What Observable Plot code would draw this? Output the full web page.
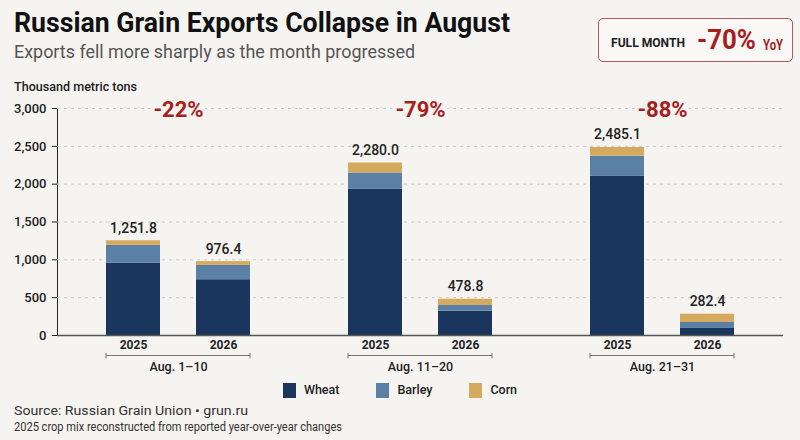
<!DOCTYPE html>
<html>
<head>
<meta charset="utf-8">
<script src="https://cdn.jsdelivr.net/npm/d3@7"></script>
<script src="https://cdn.jsdelivr.net/npm/@observablehq/plot@0.6"></script>
<style>
  html, body { margin: 0; padding: 0; background: #f5f4f1; }
  #root { position: relative; width: 800px; height: 440px; overflow: hidden; background: #f5f4f1;
    font-family: Roboto, "Liberation Sans", sans-serif; color: #222; }
  .abs { position: absolute; white-space: nowrap; line-height: 1; transform-origin: 0 0; }
  #title { left: 14px; top: 9.4px; font-size: 28px; font-weight: 700; color: #111; }
  #subtitle { left: 14px; top: 42px; font-size: 19px; color: #555; }
  #box { left: 598px; top: 18px; width: 193px; height: 42px; border: 1.2px solid #b9565a; border-radius: 5px;
    background: #f9f8f6; }
  #fmLbl { left: 611px; top: 36px; font-size: 13px; font-weight: 700; color: #222; }
  #fm { left: 697px; top: 27.3px; font-size: 27px; font-weight: 700; color: #a51f1f; }
  #yoy { left: 763px; top: 38px; font-size: 14px; font-weight: 700; color: #a51f1f; }
  #unit { left: 14px; top: 80px; font-size: 13px; font-weight: 500; color: #222; }
  #chart { position: absolute; left: 0; top: 92px; }
  #legend { left: 0; top: 383px; width: 800px; display: flex; justify-content: center; gap: 37px; }
  #legend .item { display: flex; align-items: center; font-size: 12.5px; font-weight: 500; color: #222; }
  #legend .sw { width: 13px; height: 15px; margin-right: 8px; }
  #src1 { left: 14px; top: 405px; font-size: 12px; color: #333; }
  #src2 { left: 14px; top: 421px; font-size: 12px; color: #333; }
  #chart g[aria-label="x-axis tick label"] { font-weight: 700; font-size: 12px; }
  #chart g[aria-label="fx-axis tick label"] { font-weight: 500; font-size: 12.5px; }
  #chart g[aria-label="y-axis tick label"] { font-weight: 500; }
</style>
</head>
<body>
<div id="root">
  <div id="title" class="abs">Russian Grain Exports Collapse in August</div>
  <div id="subtitle" class="abs">Exports fell more sharply as the month progressed</div>
  <div id="box" class="abs"></div>
  <div id="fmLbl" class="abs">FULL MONTH</div>
  <div id="fm" class="abs"></div>
  <div id="yoy" class="abs">YoY</div>
  <div id="unit" class="abs">Thousand metric tons</div>
  <div id="chart"></div>
  <div id="legend" class="abs"></div>
  <div id="src1" class="abs">Source: Russian Grain Union • grun.ru</div>
  <div id="src2" class="abs">2025 crop mix reconstructed from reported year-over-year changes</div>
</div>
<script>
// ---- data ----
const groups = ["Aug. 1–10", "Aug. 11–20", "Aug. 21–31"];
const years = ["2025", "2026"];
const crops = ["Wheat", "Barley", "Corn"];
const cropColors = ["#1b365d", "#5b80a6", "#d6aa5e"];
const barGroup = ["Aug. 1–10", "Aug. 1–10", "Aug. 11–20", "Aug. 11–20", "Aug. 21–31", "Aug. 21–31"];
const barYear = ["2025", "2026", "2025", "2026", "2025", "2026"];
const wheat = [957, 737, 1932, 322, 2108, 93];
const barley = [234, 189, 216, 75, 261, 79];
const corn = [60.8, 50.4, 132.0, 81.8, 116.1, 110.4];
const totals = [1251.8, 976.4, 2280.0, 478.8, 2485.1, 282.4];
const changes = ["-22%", "-79%", "-88%"];
const fullMonthChange = "-70%";
const yTicks = [0, 500, 1000, 1500, 2000, 2500, 3000];

// ---- tables ----
const series = [wheat, barley, corn];
const rows = barGroup.flatMap((g, i) => crops.map((c, j) => ({group: g, year: barYear[i], crop: c, value: series[j][i]})));
const totalRows = barGroup.map((g, i) => ({group: g, year: barYear[i], total: totals[i]}));
const groupRows = groups.map((g, i) => ({group: g, change: changes[i]}));
const bg = "#f5f4f1";
const fmt = d3.format(",.1f");

document.getElementById("fm").textContent = fullMonthChange;

const plot = Plot.plot({
  width: 800,
  height: 286,
  marginLeft: 57,
  marginRight: 17,
  marginTop: 16,
  marginBottom: 43,
  style: {background: "transparent", fontFamily: "Roboto, 'Liberation Sans', sans-serif", fontSize: "13px", color: "#222"},
  fx: {domain: groups, padding: 0},
  x: {domain: years, paddingInner: 0.4, paddingOuter: 0.544, tickSize: 0, tickPadding: 5, label: null},
  y: {domain: [0, 3000], ticks: yTicks, tickFormat: d3.format(","), tickSize: 5, tickPadding: 6, line: true, label: null},
  color: {domain: crops, range: cropColors},
  marks: [
    Plot.gridY(yTicks.slice(1), {stroke: "#c8c8c8", strokeOpacity: 1, strokeDasharray: "3,4"}),
    Plot.barY(rows, {fx: "group", x: "year", y: "value", fill: "crop", order: crops}),
    Plot.ruleY([0], {stroke: "#555", strokeWidth: 1.5}),
    Plot.text(totalRows, {fx: "group", x: "year", y: "total", text: d => fmt(d.total), dy: -8, lineAnchor: "bottom", fontSize: 14, fontWeight: 500, fill: "#222"}),
    Plot.text(groupRows, {fx: "group", text: "change", frameAnchor: "top", dy: -7, fontSize: 22, fontWeight: 700, fill: "#a51f1f", stroke: bg, strokeWidth: 8, paintOrder: "stroke"}),
    Plot.ruleY(groupRows, {fx: "group", x1: () => years[0], x2: () => years[1], y: () => 0, dy: 20, stroke: "#777", strokeWidth: 1, markerStart: "tick", markerEnd: "tick"}),
    Plot.axisFx({anchor: "bottom", tickSize: 0, tickPadding: 27, label: null})
  ]
});
document.getElementById("chart").appendChild(plot);

// legend from the same arrays
const legend = d3.select("#legend");
crops.forEach((c, i) => {
  const it = legend.append("div").attr("class", "item");
  it.append("div").attr("class", "sw").style("background", cropColors[i]);
  it.append("span").text(c);
});

// condense the HTML text lines to the reference's narrow type widths
function fit(id, w) {
  const el = document.getElementById(id);
  const r = el.getBoundingClientRect().width;
  if (r > 0) el.style.transform = `scaleX(${w / r})`;
}
fit("title", 496);
fit("subtitle", 401);
fit("unit", 123);
fit("src1", 234);
fit("src2", 328);
fit("fmLbl", 74);
fit("fm", 59);
fit("yoy", 20);
</script>
</body>
</html>
